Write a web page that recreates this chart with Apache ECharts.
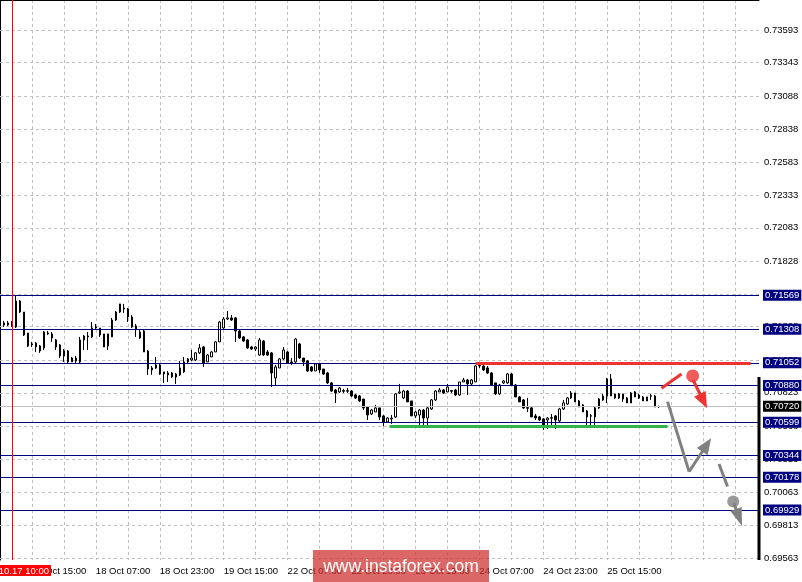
<!DOCTYPE html>
<html><head><meta charset="utf-8">
<script src="https://cdn.jsdelivr.net/npm/echarts@6/dist/echarts.min.js"></script>
<style>html,body{margin:0;padding:0;background:#fff}#c{width:802px;height:582px}</style>
</head><body><div id="c"></div>
<script>
// ---------- data ----------
const startHourUTC = [2018, 9, 17, 7];   // 17 Oct 2018 07:00 (first bar, H1)
const slotCount = 191;                   // bars + empty future slots
// [open, close, low, high]
const candles = [
[0.71349,0.71349,0.71341,0.71357],
[0.71341,0.71357,0.71326,0.71372],[0.71341,0.71357,0.71334,0.71372],[0.71334,0.71357,0.71326,0.71372],
[0.71326,0.71524,0.71318,0.71563],[0.71524,0.71440,0.71433,0.71532],[0.71440,0.71265,0.71257,0.71440],
[0.71280,0.71181,0.71173,0.71280],[0.71196,0.71189,0.71173,0.71212],[0.71204,0.71173,0.71135,0.71212],
[0.71181,0.71143,0.71128,0.71189],[0.71166,0.71288,0.71150,0.71295],[0.71280,0.71273,0.71265,0.71295],
[0.71273,0.71242,0.71212,0.71288],[0.71227,0.71173,0.71150,0.71234],[0.71189,0.71105,0.71089,0.71196],
[0.71105,0.71143,0.71059,0.71158],[0.71143,0.71059,0.71051,0.71150],[0.71059,0.71089,0.71059,0.71097],
[0.71066,0.71089,0.71051,0.71105],[0.71059,0.71227,0.71051,0.71250],[0.71227,0.71257,0.71150,0.71265],
[0.71250,0.71257,0.71150,0.71288],[0.71250,0.71318,0.71242,0.71364],[0.71318,0.71326,0.71311,0.71349],
[0.71318,0.71265,0.71250,0.71318],[0.71273,0.71173,0.71173,0.71273],[0.71181,0.71273,0.71150,0.71273],
[0.71250,0.71379,0.71250,0.71395],[0.71379,0.71440,0.71372,0.71448],[0.71440,0.71502,0.71433,0.71502],
[0.71471,0.71463,0.71433,0.71502],[0.71463,0.71402,0.71364,0.71471],[0.71402,0.71326,0.71318,0.71418],
[0.71334,0.71311,0.71250,0.71349],[0.71242,0.71288,0.71234,0.71303],[0.71295,0.71135,0.71135,0.71303],
[0.71143,0.71005,0.70960,0.71150],[0.70998,0.71013,0.70960,0.71028],[0.71013,0.71036,0.71005,0.71097],
[0.71036,0.70967,0.70960,0.71044],[0.70983,0.70967,0.70899,0.70983],[0.70975,0.70960,0.70906,0.70990],
[0.70975,0.70944,0.70937,0.70983],[0.70944,0.70967,0.70891,0.70975],[0.70960,0.71013,0.70952,0.71066],
[0.70983,0.71059,0.70975,0.71097],[0.71059,0.71082,0.71051,0.71089],[0.71074,0.71089,0.71066,0.71150],
[0.71074,0.71128,0.71066,0.71135],[0.71128,0.71166,0.71120,0.71196],[0.71173,0.71051,0.71021,0.71181],
[0.71059,0.71112,0.71059,0.71120],[0.71097,0.71135,0.71097,0.71143],[0.71135,0.71212,0.71135,0.71219],
[0.71212,0.71364,0.71212,0.71372],[0.71318,0.71387,0.71311,0.71402],[0.71387,0.71395,0.71379,0.71448],
[0.71395,0.71379,0.71372,0.71418],[0.71395,0.71295,0.71212,0.71402],[0.71295,0.71242,0.71234,0.71303],
[0.71250,0.71219,0.71212,0.71257],[0.71227,0.71166,0.71158,0.71234],[0.71173,0.71158,0.71150,0.71181],
[0.71158,0.71173,0.71143,0.71181],[0.71112,0.71227,0.71105,0.71242],[0.71219,0.71112,0.71105,0.71227],
[0.71135,0.71112,0.71105,0.71150],[0.71128,0.70975,0.70868,0.71135],[0.70937,0.71021,0.70883,0.71036],
[0.71013,0.71082,0.71013,0.71089],[0.71082,0.71150,0.71074,0.71173],[0.71135,0.71051,0.71044,0.71143],
[0.71059,0.71051,0.71036,0.71089],[0.71059,0.71234,0.71051,0.71242],[0.71196,0.71089,0.71082,0.71204],
[0.71089,0.71059,0.71028,0.71089],[0.71066,0.70990,0.70983,0.71074],[0.71021,0.70990,0.70983,0.71028],
[0.70990,0.71044,0.70990,0.71051],[0.71044,0.70998,0.70975,0.71044],[0.71005,0.70967,0.70960,0.71005],
[0.70975,0.70899,0.70891,0.70983],[0.70899,0.70837,0.70830,0.70906],[0.70845,0.70822,0.70746,0.70853],
[0.70830,0.70860,0.70822,0.70868],[0.70840,0.70835,0.70822,0.70853],[0.70835,0.70840,0.70822,0.70860],
[0.70837,0.70799,0.70792,0.70845],[0.70807,0.70784,0.70776,0.70815],[0.70799,0.70761,0.70754,0.70807],
[0.70776,0.70708,0.70692,0.70776],[0.70715,0.70654,0.70616,0.70715],[0.70662,0.70692,0.70654,0.70700],
[0.70677,0.70708,0.70677,0.70731],[0.70708,0.70639,0.70616,0.70708],[0.70647,0.70601,0.70570,0.70654],
[0.70601,0.70631,0.70601,0.70639],[0.70624,0.70631,0.70586,0.70654],[0.70639,0.70815,0.70631,0.70822],
[0.70822,0.70830,0.70815,0.70891],[0.70784,0.70837,0.70776,0.70845],[0.70837,0.70754,0.70754,0.70845],
[0.70761,0.70647,0.70647,0.70761],[0.70647,0.70677,0.70631,0.70685],[0.70654,0.70692,0.70578,0.70700],
[0.70692,0.70631,0.70578,0.70700],[0.70631,0.70708,0.70555,0.70715],[0.70700,0.70769,0.70692,0.70776],
[0.70769,0.70837,0.70761,0.70845],[0.70830,0.70845,0.70830,0.70860],[0.70845,0.70822,0.70815,0.70853],
[0.70830,0.70868,0.70830,0.70891],[0.70840,0.70835,0.70822,0.70845],[0.70845,0.70807,0.70799,0.70853],
[0.70807,0.70906,0.70799,0.70906],[0.70906,0.70921,0.70906,0.70937],[0.70921,0.70891,0.70807,0.70929],
[0.70891,0.70921,0.70883,0.70929],[0.70906,0.71028,0.70906,0.71036],[0.71028,0.71032,0.71013,0.71044],
[0.71028,0.70998,0.70990,0.71036],[0.71013,0.70975,0.70967,0.71028],[0.70975,0.70883,0.70876,0.70983],
[0.70899,0.70815,0.70807,0.70899],[0.70815,0.70883,0.70807,0.70891],[0.70899,0.70914,0.70891,0.70921],
[0.70899,0.70967,0.70891,0.70975],[0.70967,0.70883,0.70876,0.70975],[0.70883,0.70792,0.70792,0.70891],
[0.70792,0.70754,0.70754,0.70799],[0.70769,0.70708,0.70700,0.70776],[0.70710,0.70706,0.70677,0.70784],
[0.70708,0.70639,0.70639,0.70715],[0.70647,0.70631,0.70616,0.70662],[0.70639,0.70616,0.70609,0.70647],
[0.70624,0.70578,0.70540,0.70631],[0.70616,0.70631,0.70547,0.70639],[0.70633,0.70629,0.70578,0.70662],
[0.70647,0.70616,0.70547,0.70654],[0.70609,0.70700,0.70601,0.70708],[0.70700,0.70746,0.70692,0.70769],
[0.70738,0.70784,0.70731,0.70792],[0.70784,0.70822,0.70776,0.70837],[0.70822,0.70754,0.70754,0.70822],
[0.70761,0.70715,0.70715,0.70769],[0.70731,0.70677,0.70677,0.70738],[0.70685,0.70639,0.70555,0.70692],
[0.70649,0.70645,0.70563,0.70662],[0.70639,0.70708,0.70563,0.70715],[0.70708,0.70776,0.70700,0.70784],
[0.70769,0.70799,0.70761,0.70815],[0.70799,0.70929,0.70746,0.70937],[0.70929,0.70799,0.70799,0.70967],
[0.70815,0.70784,0.70776,0.70815],[0.70784,0.70815,0.70776,0.70822],[0.70815,0.70776,0.70754,0.70815],
[0.70784,0.70746,0.70746,0.70792],[0.70746,0.70822,0.70746,0.70830],[0.70830,0.70792,0.70792,0.70837],
[0.70807,0.70784,0.70776,0.70815],[0.70792,0.70761,0.70761,0.70799],[0.70761,0.70792,0.70761,0.70792],
[0.70801,0.70797,0.70769,0.70815],[0.70799,0.70715,0.70715,0.70807],[0.70716,0.70720,0.70708,0.70725]
];
// price scale grid labels (right side)
const gridLabels = [0.73593,0.73343,0.73088,0.72838,0.72583,0.72333,0.72083,0.71828,0.71578,0.71328,
                    0.71073,0.70823,0.70568,0.70313,0.70063,0.69813,0.69563];
// horizontal level lines (navy)
const levels = [0.71569,0.71308,0.71052,0.70880,0.70599,0.70344,0.70178,0.69929];
const currentPrice = 0.70720;
const markerBar = 3;                       // vertical red line bar index
const markerText = '2018.10.17 10:00';
// drawn objects: [barIndex, price]
const resistance = [[119.1,0.71052],[187.9,0.71052]];
const support    = [[97.5,0.70568],[167.1,0.70568]];
const redSwing   = [[165.6,0.70858],[170.6,0.70967]];
const redArrow   = [[173.5,0.70921],[176.1,0.70761]];
const redDot     = [173.4,0.70952];
const grayLeg    = [[167.1,0.70756],[172.5,0.70222]];
const grayArrow  = [[172.5,0.70222],[176.9,0.70425]];
const grayDash   = [[180.0,0.70280],[183.55,0.69993]];
const grayDot    = [183.55,0.69993];
const grayArrow2 = [[183.7,0.69983],[185.0,0.69872]];
const priceMin = 0.69547, priceMax = 0.73822;

// ---------- build ----------
const MON = ['Jan','Feb','Mar','Apr','May','Jun','Jul','Aug','Sep','Oct','Nov','Dec'];
const categories = [];
let t = Date.UTC(...startHourUTC);
for (let k = 0; k < candles.length; k++) {
  const d = new Date(t);
  const hh = String(d.getUTCHours()).padStart(2,'0');
  categories.push(d.getUTCDate() + ' ' + MON[d.getUTCMonth()] + ' ' + hh + ':00');
  t += 3600000;
  while ([0,6].includes(new Date(t).getUTCDay())) t += 3600000;
}
while (categories.length < slotCount) categories.push('');

const FONT = '"Liberation Sans", Arial, sans-serif';
const FS = 9.5;
const chart = echarts.init(document.getElementById('c'));

function seg(pts, style, endExtra) {
  return [
    {coord: pts[0], symbol: 'none', lineStyle: style},
    Object.assign({coord: pts[1], symbol: 'none', lineStyle: style}, endExtra || {})
  ];
}
const RED = '#ee3333', GRAY = '#808080', GREEN = '#33b24d';
const sRed = {color: RED, width: 3, type: 'solid'};
const sGray = {color: GRAY, width: 3, type: 'solid'};

chart.setOption({
  animation: false,
  backgroundColor: '#fff',
  grid: {left: 0, top: 0, width: 759, height: 560, containLabel: false},
  xAxis: [{
    type: 'category', data: categories, boundaryGap: false,
    axisLine: {show: false}, axisTick: {show: false},
    axisLabel: {
      interval: (i) => i % 16 === 8 && i <= 152,
      align: 'left', margin: 6, color: '#000', fontSize: FS, fontFamily: FONT
    },
    splitLine: {show: true, interval: (i) => i > 0 && i % 8 === 0,
      lineStyle: {color: '#c0c0c0', type: [3, 3], width: 1}}
  }, {
    type: 'value', min: 0, max: slotCount - 1, position: 'top',
    axisLine: {show: true, onZero: false, lineStyle: {color: '#000', width: 1}},
    axisTick: {show: false}, axisLabel: {show: false}, splitLine: {show: false}
  }],
  yAxis: {
    type: 'value', min: priceMin, max: priceMax, position: 'right',
    axisLine: {show: true, lineStyle: {color: '#000', width: 1}},
    axisTick: {show: false}, axisLabel: {show: false}, splitLine: {show: false}
  },
  series: [
    { // price grid
      type: 'line', xAxisIndex: 1, data: [], silent: true,
      markLine: {
        silent: true, symbol: 'none', z: 1, animation: false, precision: 5,
        lineStyle: {color: '#c0c0c0', type: [3, 3], width: 1},
        label: {show: true, position: 'end', distance: 5, color: '#000', fontSize: FS, fontFamily: FONT},
        data: gridLabels.map(v => ({yAxis: v, label: {formatter: v.toFixed(5)}}))
      }
    },
    {
      type: 'candlestick', xAxisIndex: 0, data: candles, barWidth: 2, z: 2,
      itemStyle: {color: '#ffffff', color0: '#000000', borderColor: '#000000', borderColor0: '#000000', borderWidth: 1}
    },
    { // levels
      type: 'line', xAxisIndex: 1, data: [], silent: true, z: 3,
      markLine: {
        silent: true, symbol: 'none', z: 3, animation: false, precision: 5,
        data: levels.map(v => ({
          yAxis: v,
          lineStyle: {color: '#000080', type: 'solid', width: 1},
          label: {show: true, position: 'end', distance: 4, formatter: v.toFixed(5),
            backgroundColor: '#000080', color: '#fff', padding: [1, 2, 0, 2], fontSize: FS, fontFamily: FONT}
        })).concat([{
          yAxis: currentPrice,
          lineStyle: {color: '#c0c0c0', type: 'solid', width: 1},
          label: {show: true, position: 'end', distance: 4, formatter: currentPrice.toFixed(5),
            backgroundColor: '#000', color: '#fff', padding: [1, 2, 0, 2], fontSize: FS, fontFamily: FONT}
        }, {
          xAxis: markerBar,
          lineStyle: {color: '#ff0000', type: 'solid', width: 1},
          label: {show: true, position: 'start', distance: 5, formatter: markerText,
            backgroundColor: '#ff0000', color: '#fff', padding: [1, 2, 0, 2], fontSize: FS, fontFamily: FONT}
        }])
      }
    },
    { // drawn objects
      type: 'line', xAxisIndex: 1, data: [], silent: true, z: 4,
      markLine: {
        silent: true, symbol: 'none', z: 4, animation: false, precision: 5, label: {show: false},
        data: [
          seg(resistance, sRed),
          seg(support, {color: GREEN, width: 3, type: 'solid'}),
          seg(redSwing, sRed),
          seg(redArrow, sRed, {symbol: 'triangle', symbolSize: [13, 16]}),
          seg(grayLeg, sGray),
          seg(grayArrow, sGray, {symbol: 'triangle', symbolSize: [13, 16]}),
          seg(grayDash, {color: GRAY, width: 3, type: [24, 30]}),
          seg(grayArrow2, sGray, {symbol: 'triangle', symbolSize: [12, 18]})
        ]
      }
    },
    {
      type: 'scatter', xAxisIndex: 1, silent: true, z: 5, symbol: 'circle',
      data: [
        {value: redDot, symbolSize: 13, itemStyle: {color: RED}},
        {value: grayDot, symbolSize: 12, itemStyle: {color: GRAY}}
      ]
    }
  ],
  graphic: [
    {type: 'rect', z: 100, shape: {x: 757.5, y: 377, width: 3, height: 183}, style: {fill: '#000'}},
    {type: 'rect', z: 100, shape: {x: 313, y: 550, width: 176, height: 32}, style: {fill: 'rgba(205,45,45,0.72)'}},
    {type: 'text', z: 101, x: 401, y: 567, style: {text: 'www.instaforex.com', fill: '#fff',
      font: '17.5px "Liberation Sans", Arial, sans-serif', align: 'center', verticalAlign: 'middle'}}
  ]
});
</script></body></html>
